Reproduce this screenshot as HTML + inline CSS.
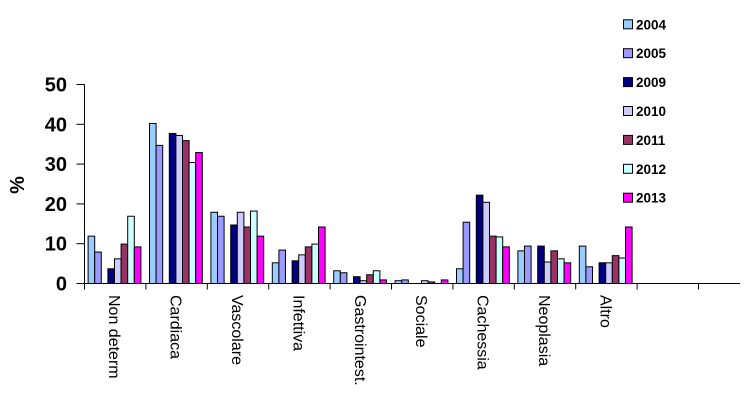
<!DOCTYPE html>
<html><head><meta charset="utf-8"><style>
body{margin:0;background:#fff;}
svg{display:block;font-family:"Liberation Sans",sans-serif;}
</style></head><body>
<svg id="chart" width="750" height="400">
<g id="axes"></g><g id="bars"></g><g id="legend"></g>
</svg>
<script>
const categories=["Non determ","Cardiaca","Vascolare","Infettiva","Gastrointest.","Sociale","Cachessia","Neoplasia","Altro","",""];
const seriesNames=["2004","2005","","2009","2010","2011","2012","2013"];
const s2004=[11.9,40.2,17.9,5.2,3.2,0.7,3.7,8.2,9.4];
const s2005=[7.9,34.7,16.9,8.4,2.7,0.9,15.4,9.4,4.2];
const sEmpty=[0,0,0,0,0,0,0,0,0];
const s2009=[3.7,37.7,14.7,5.7,1.7,0,22.2,9.4,5.2];
const s2010=[6.2,37.2,17.9,7.2,0.7,0.7,20.4,5.4,5.2];
const s2011=[9.9,35.9,14.2,9.2,2.2,0.4,11.9,8.2,7.0];
const s2012=[16.9,30.4,18.2,9.9,3.2,0,11.7,6.2,6.4];
const s2013=[9.2,32.9,11.9,14.2,0.9,0.9,9.2,5.2,14.2];
const yTicks=[0,10,20,30,40,50];
const series=[s2004,s2005,sEmpty,s2009,s2010,s2011,s2012,s2013];
const colors=["#99ccff","#9999ff","none","#000080","#ccccff","#993366","#ccffff","#ff00ff"];
const NS="http://www.w3.org/2000/svg";
const x0=84.5,y0=283.5,yTop=84.5,slot=61.4;
const y=v=>y0-(v/50)*(y0-yTop);
const axes=document.getElementById('axes'),bars=document.getElementById('bars'),leg=document.getElementById('legend');
function mk(tag,attrs,parent){const e=document.createElementNS(NS,tag);for(const k in attrs)e.setAttribute(k,attrs[k]);parent.appendChild(e);return e;}
let l=mk('line',{x1:x0,y1:yTop,x2:x0,y2:y0,stroke:'#000'},axes);


l=mk('line',{x1:x0,y1:y0,x2:740,y2:y0,stroke:'#000'},axes);


yTicks.forEach(t=>{
 mk('line',{x1:x0-8,y1:y(t),x2:x0,y2:y(t),stroke:'#000'},axes);
 const tx=mk('text',{x:67,y:y(t)+7,'text-anchor':'end','font-size':20,'font-weight':'bold'},axes);
 tx.textContent=t;
 
 
});
const yt=mk('text',{x:0,y:0,transform:'translate(24,185) rotate(-90)','text-anchor':'middle','font-size':20,'font-weight':'bold'},axes);
yt.textContent='%';


categories.forEach((c,i)=>{
 const xs=x0+i*slot;
 mk('line',{x1:xs,y1:y0,x2:xs,y2:y0+6,stroke:'#000'},axes);
 if(c){
  const tx=mk('text',{x:0,y:0,transform:`translate(${xs+slot/2-6},295) rotate(90)`,'font-size':16},axes);
  tx.textContent=c;
  
  
 }
});
mk('line',{x1:x0+11*slot,y1:y0,x2:x0+11*slot,y2:y0+6,stroke:'#000'},axes);
const bw=6.6,off=3.6;
series.forEach((s,si)=>{
 if(colors[si]==='none')return;
 s.forEach((v,ci)=>{
  if(v<=0)return;
  const bx=x0+ci*slot+off+si*bw;
  const r=mk('rect',{x:bx,y:y(v),width:bw,height:y0-y(v),fill:colors[si],stroke:'#000','stroke-width':1},bars);
  
  
 });
});
let li=0;
seriesNames.forEach((n,si)=>{
 if(!n)return;
 const cy=24.3+li*28.9;li++;
 const g=mk('g',{},leg);
 
 
 mk('rect',{x:623.5,y:cy-4.5,width:9,height:9,fill:colors[si],stroke:'#000'},g);
 const t=mk('text',{x:636,y:cy+5,'font-size':13.5,'font-weight':'bold'},g);
 t.textContent=n;
});
</script>
</body></html>
